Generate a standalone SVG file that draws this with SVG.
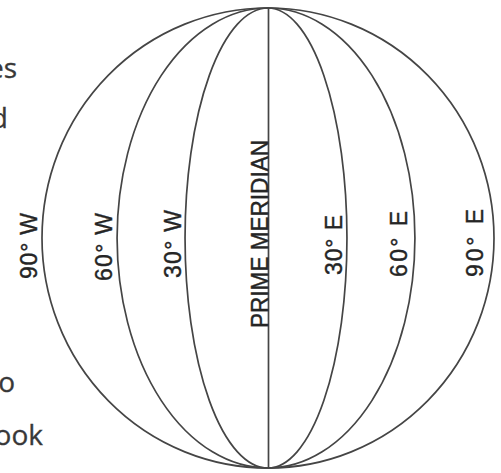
<svg xmlns="http://www.w3.org/2000/svg" width="501" height="473" viewBox="0 0 501 473">
<style>
.ln{fill:none;stroke:#454545;stroke-width:1.7}
.lb{font-family:"Liberation Sans",Arial,sans-serif;font-size:23px;fill:#252525;stroke:#252525;stroke-width:0.4}
.pg{font-family:"Open Sans","DejaVu Sans",sans-serif;font-size:28px;fill:#383838;stroke:#383838;stroke-width:0.3}
</style>
<rect width="501" height="473" fill="#ffffff"/>
<g id="page-text">
<text class="pg" x="17" y="78" text-anchor="end">es</text>
<text class="pg" x="8" y="128" text-anchor="end">d</text>
<text class="pg" x="15" y="392" text-anchor="end">o</text>
<text class="pg" x="43" y="445" text-anchor="end">ook</text>
</g>
<g id="globe">
<ellipse class="ln" cx="268" cy="238" rx="226" ry="230"/>
<line class="ln" x1="268.5" y1="8" x2="268.5" y2="468"/>
<path class="ln" d="M268,8 A83,230 0 0 0 268,468"/>
<path class="ln" d="M268,8 A151,230 0 0 0 268,468"/>
<path class="ln" d="M268,8 A79,230 0 0 1 268,468"/>
<path class="ln" d="M268,8 A147,230 0 0 1 268,468"/>
</g>
<g id="labels">
<text class="lb" transform="translate(37,246) rotate(-90)" text-anchor="middle" textLength="66" lengthAdjust="spacing">90° W</text>
<text class="lb" transform="translate(112,247) rotate(-90)" text-anchor="middle" textLength="68" lengthAdjust="spacing">60° W</text>
<text class="lb" transform="translate(181,244) rotate(-90)" text-anchor="middle" textLength="68" lengthAdjust="spacing">30° W</text>
<text class="lb" transform="translate(268,234) rotate(-90)" text-anchor="middle" textLength="188" lengthAdjust="spacingAndGlyphs">PRIME MERIDIAN</text>
<text class="lb" transform="translate(342,245) rotate(-90)" text-anchor="middle" textLength="60" lengthAdjust="spacing">30° E</text>
<text class="lb" transform="translate(407,244) rotate(-90)" text-anchor="middle" textLength="66" lengthAdjust="spacing">60° E</text>
<text class="lb" transform="translate(483,243) rotate(-90)" text-anchor="middle" textLength="68" lengthAdjust="spacing">90° E</text>
</g>
</svg>
